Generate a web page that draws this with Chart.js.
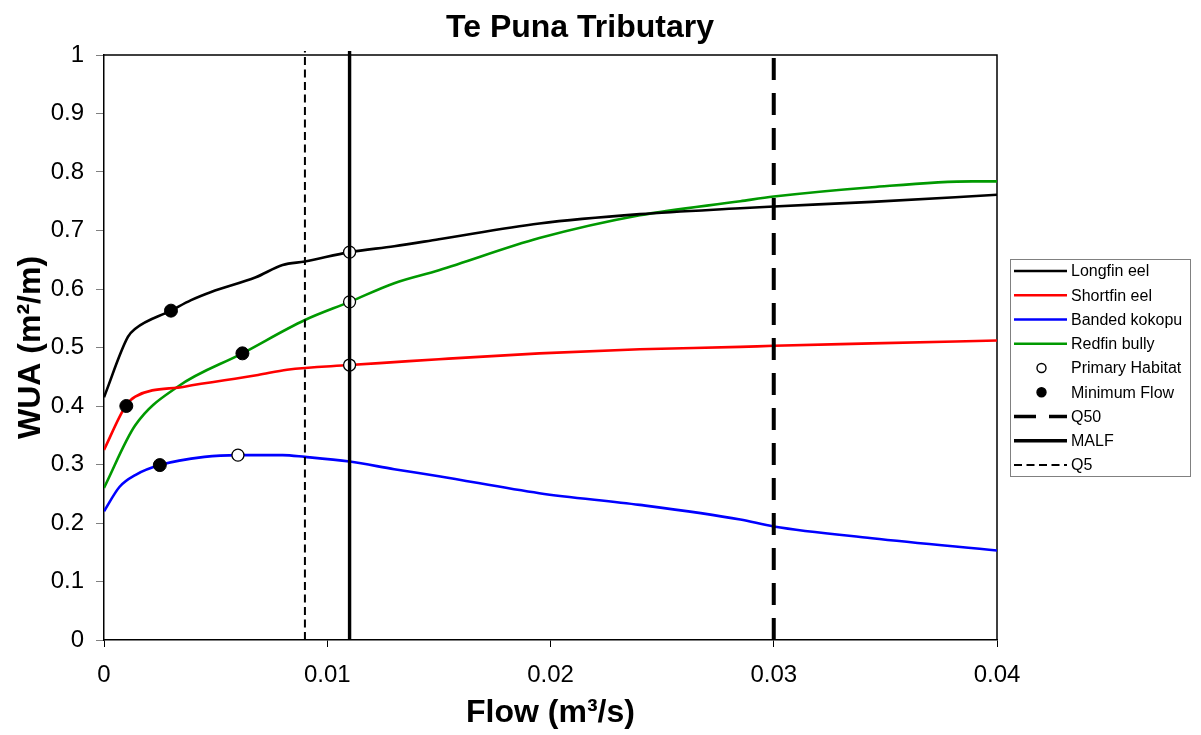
<!DOCTYPE html>
<html>
<head>
<meta charset="utf-8">
<title>Te Puna Tributary</title>
<script src="https://cdn.jsdelivr.net/npm/chart.js@4/dist/chart.umd.min.js"></script>
<style>
    html, body { margin: 0; padding: 0; background: #fff; }
</style>
</head>
<body>
<canvas id="wuaChart" width="1201" height="735"></canvas>
<script>
// WUA curves (m2/m) against flow (m3/s)
var longfinFlow = [0, 0.00107, 0.0014, 0.003, 0.0039, 0.0048, 0.0068, 0.008, 0.009, 0.011, 0.013, 0.015, 0.0195, 0.024, 0.0285, 0.03, 0.0344, 0.04];
var longfinWua  = [0.415, 0.518, 0.532, 0.563, 0.581, 0.595, 0.620, 0.641, 0.647, 0.663, 0.673, 0.685, 0.712, 0.728, 0.738, 0.741, 0.749, 0.761];

var shortfinFlow = [0, 0.00097, 0.0014, 0.0036, 0.0069, 0.0082, 0.011, 0.013, 0.015, 0.0195, 0.024, 0.0285, 0.03, 0.0344, 0.04];
var shortfinWua  = [0.325, 0.400, 0.416, 0.433, 0.453, 0.462, 0.470, 0.475, 0.480, 0.490, 0.497, 0.501, 0.503, 0.507, 0.512];

var kokopuFlow = [0, 0.0007, 0.0014, 0.0025, 0.0045, 0.006, 0.008, 0.009, 0.011, 0.013, 0.015, 0.0195, 0.024, 0.0285, 0.03, 0.0344, 0.04];
var kokopuWua  = [0.220, 0.262, 0.282, 0.299, 0.313, 0.316, 0.316, 0.313, 0.305, 0.292, 0.280, 0.251, 0.231, 0.206, 0.194, 0.174, 0.153];

var redfinFlow = [0, 0.0014, 0.0033, 0.0062, 0.009, 0.011, 0.013, 0.015, 0.0195, 0.024, 0.0285, 0.03, 0.0344, 0.0389, 0.04];
var redfinWua  = [0.260, 0.367, 0.433, 0.490, 0.547, 0.578, 0.610, 0.632, 0.687, 0.726, 0.750, 0.758, 0.774, 0.784, 0.784];

// marker points: longfin, shortfin, redfin, kokopu
var primaryFlow = [0.011, 0.011, 0.011, 0.006];
var primaryWua  = [0.663, 0.470, 0.578, 0.316];
// longfin, shortfin, kokopu, redfin
var minimumFlow = [0.003, 0.001, 0.0025, 0.0062];
var minimumWua  = [0.563, 0.400, 0.299, 0.490];

// flow statistics
var q50 = 0.03;
var malf = 0.011;
var q5 = 0.009;
var wuaRange = [0, 1.007];

var xTicks = [0, 0.01, 0.02, 0.03, 0.04];
var yTicks = [0, 0.1, 0.2, 0.3, 0.4, 0.5, 0.6, 0.7, 0.8, 0.9, 1];

var FONT = "'Liberation Sans', Arial, sans-serif";

function toPoints(xs, ys) {
    var pts = [];
    for (var i = 0; i < xs.length; i++) {
        pts.push({x: xs[i], y: ys[i]});
    }
    return pts;
}

function plainNumber(value) {
    return String(Number(value.toFixed(4)));
}

function curve(label, color, xs, ys) {
    return {
        label: label,
        data: toPoints(xs, ys),
        showLine: true,
        borderColor: color,
        backgroundColor: color,
        borderWidth: 2.6,
        pointRadius: 0,
        cubicInterpolationMode: 'monotone',
        order: 3
    };
}

function flowLine(label, value, width, dash) {
    return {
        label: label,
        data: toPoints([value, value], wuaRange),
        showLine: true,
        borderColor: '#000',
        borderWidth: width,
        borderDash: dash,
        pointRadius: 0,
        clip: false,
        order: 1
    };
}

var datasets = [
    curve('Longfin eel', '#000000', longfinFlow, longfinWua),
    curve('Shortfin eel', '#ff0000', shortfinFlow, shortfinWua),
    curve('Banded kokopu', '#0000ff', kokopuFlow, kokopuWua),
    curve('Redfin bully', '#009900', redfinFlow, redfinWua),
    {
        label: 'Primary Habitat',
        data: toPoints(primaryFlow, primaryWua),
        showLine: false,
        pointRadius: 6,
        pointBorderWidth: 1.3,
        pointBorderColor: '#000',
        pointBackgroundColor: '#fff',
        order: 2
    },
    {
        label: 'Minimum Flow',
        data: toPoints(minimumFlow, minimumWua),
        showLine: false,
        pointRadius: 6.5,
        pointBorderWidth: 1,
        pointBorderColor: '#000',
        pointBackgroundColor: '#000',
        order: 0
    },
    flowLine('Q50', q50, 4, [22, 13]),
    flowLine('MALF', malf, 3.4, []),
    flowLine('Q5', q5, 2, [8, 4.5])
];

// frame, title and the boxed legend on the right
var decorations = {
    id: 'decorations',
    beforeDatasetsDraw: function (chart) {
        var ctx = chart.ctx;
        var a = chart.chartArea;
        ctx.save();
        ctx.strokeStyle = '#000';
        ctx.lineWidth = 1.5;
        ctx.beginPath();
        ctx.moveTo(a.left, a.top);
        ctx.lineTo(a.right, a.top);
        ctx.lineTo(a.right, a.bottom);
        ctx.stroke();
        ctx.restore();
    },
    afterDraw: function (chart) {
        var ctx = chart.ctx;
        ctx.save();
        ctx.fillStyle = '#000';
        ctx.font = 'bold 32px ' + FONT;
        ctx.textAlign = 'center';
        ctx.textBaseline = 'middle';
        ctx.fillText('Te Puna Tributary', 580, 28);

        var bx = 1010.5, by = 259.5, bw = 180, bh = 217;
        ctx.fillStyle = '#fff';
        ctx.fillRect(bx, by, bw, bh);
        ctx.strokeStyle = '#808080';
        ctx.lineWidth = 1;
        ctx.strokeRect(bx, by, bw, bh);

        ctx.font = '16px ' + FONT;
        ctx.textAlign = 'left';
        chart.data.datasets.forEach(function (ds, i) {
            var y = 271 + i * 24.25;
            if (ds.showLine) {
                ctx.strokeStyle = ds.borderColor;
                ctx.lineWidth = Math.min(ds.borderWidth, 3.5);
                ctx.setLineDash(ds.borderDash || []);
                ctx.beginPath();
                ctx.moveTo(1014, y);
                ctx.lineTo(1067, y);
                ctx.stroke();
                ctx.setLineDash([]);
            } else {
                ctx.beginPath();
                ctx.arc(1041.5, y, 4.5, 0, Math.PI * 2);
                ctx.fillStyle = ds.pointBackgroundColor;
                ctx.fill();
                ctx.strokeStyle = '#000';
                ctx.lineWidth = 1.4;
                ctx.stroke();
            }
            ctx.fillStyle = '#000';
            ctx.fillText(ds.label, 1071, y + 1);
        });
        ctx.restore();
    }
};

var ctx = document.getElementById('wuaChart');
var wuaChart = new Chart(ctx, {
    type: 'scatter',
    data: {datasets: datasets},
    plugins: [decorations],
    options: {
        responsive: false,
        animation: false,
        layout: {padding: {top: 55, right: 204, left: 0, bottom: 0}},
        plugins: {
            legend: {display: false},
            tooltip: {enabled: false},
            title: {display: false}
        },
        scales: {
            x: {
                type: 'linear',
                min: xTicks[0],
                max: xTicks[xTicks.length - 1],
                afterFit: function (scale) { scale.height = 95; },
                afterBuildTicks: function (scale) {
                    scale.ticks = xTicks.map(function (v) { return {value: v}; });
                },
                ticks: {
                    color: '#000',
                    padding: 14,
                    maxRotation: 0,
                    font: {family: FONT, size: 24},
                    callback: plainNumber
                },
                grid: {
                    drawOnChartArea: false,
                    drawTicks: true,
                    tickLength: 7,
                    color: '#000'
                },
                border: {color: '#000', width: 1.5},
                title: {
                    display: true,
                    text: 'Flow (m³/s)',
                    color: '#000',
                    padding: {top: 0, bottom: 3},
                    font: {family: FONT, size: 32, weight: 'bold'}
                }
            },
            y: {
                min: yTicks[0],
                max: yTicks[yTicks.length - 1],
                afterFit: function (scale) { scale.width = 104; },
                afterBuildTicks: function (scale) {
                    scale.ticks = yTicks.map(function (v) { return {value: v}; });
                },
                ticks: {
                    color: '#000',
                    padding: 12,
                    font: {family: FONT, size: 24},
                    callback: plainNumber
                },
                grid: {
                    drawOnChartArea: false,
                    drawTicks: true,
                    tickLength: 8,
                    color: '#808080'
                },
                border: {color: '#000', width: 1.5},
                title: {
                    display: true,
                    text: 'WUA (m²/m)',
                    color: '#000',
                    padding: {top: 12, bottom: 0},
                    font: {family: FONT, size: 32, weight: 'bold'}
                }
            }
        }
    }
});
</script>
</body>
</html>
